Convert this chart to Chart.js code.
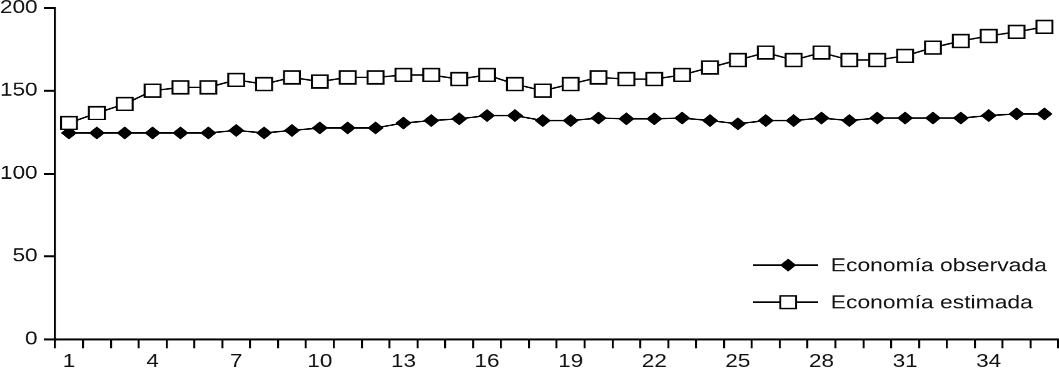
<!DOCTYPE html>
<html>
<head>
<meta charset="utf-8">
<script src="https://cdn.jsdelivr.net/npm/chart.js@4.4.1/dist/chart.umd.min.js"></script>
<style>
  html, body { margin: 0; padding: 0; background: #fff; overflow: hidden; }
  #wrap { position: absolute; left: 0; top: 0; width: 847px; height: 373px;
          transform: scale(1.2503, 1); transform-origin: 0 0; }
</style>
</head>
<body>
<div id="wrap"><canvas id="c"></canvas></div>
<script>
const categories = ['1','2','3','4','5','6','7','8','9','10','11','12','13','14','15','16','17','18',
                    '19','20','21','22','23','24','25','26','27','28','29','30','31','32','33','34','35','36'];
const observed = [124.5,124.5,124.5,124.5,124.5,124.5,126,124.5,126,127.5,127.5,127.5,130.5,132,133,135,135,132,
                  132,133.5,133,133,133.5,132,130,132,132,133.5,132,133.5,133.5,133.5,133.5,135,136,136];
const estimated = [130.5,136.5,142,150,152,152,156.5,154,158,155.5,158,158,159.5,159.5,157,159.5,154,150,
                   154,158,157,157,159.5,164,168.5,173,168.5,173,168.5,168.5,171,176,180,183,185.5,188.5];
const seriesNames = ['Economía observada', 'Economía estimada'];
const yTicks = [0, 50, 100, 150, 200];

const FONT = 'Liberation Sans, Arial, sans-serif';
// target plot area (unstretched canvas coordinates)
const TARGET = { top: 8, right: 846, bottom: 339 };

const legendPlugin = {
  id: 'insideLegend',
  afterDraw(chart) {
    const ctx = chart.ctx;
    const off = chart.chartArea.top - TARGET.top;
    const rows = [
      { y: 265 + off, style: 'diamond' },
      { y: 302 + off, style: 'square' }
    ];
    ctx.save();
    rows.forEach((r, i) => {
      ctx.strokeStyle = '#000';
      ctx.lineWidth = 1.5;
      ctx.beginPath();
      ctx.moveTo(602, r.y);
      ctx.lineTo(654, r.y);
      ctx.stroke();
      const cx = 630;
      if (r.style === 'diamond') {
        ctx.fillStyle = '#000';
        ctx.beginPath();
        ctx.moveTo(cx - 6.5, r.y);
        ctx.lineTo(cx, r.y - 6.5);
        ctx.lineTo(cx + 6.5, r.y);
        ctx.lineTo(cx, r.y + 6.5);
        ctx.closePath();
        ctx.fill();
      } else {
        ctx.fillStyle = '#fff';
        ctx.lineWidth = 1.5;
        ctx.fillRect(cx - 6.3, r.y - 6.3, 12.6, 12.6);
        ctx.strokeRect(cx - 6.3, r.y - 6.3, 12.6, 12.6);
      }
      ctx.fillStyle = '#111';
      ctx.font = '18.3px ' + FONT;
      ctx.textBaseline = 'middle';
      ctx.textAlign = 'left';
      ctx.fillText(seriesNames[i], 664, r.y + 1);
    });
    ctx.restore();
  }
};

const chart = new Chart(document.getElementById('c'), {
  type: 'line',
  data: {
    labels: categories,
    datasets: [
      {
        label: seriesNames[0],
        data: observed,
        borderColor: '#000',
        borderWidth: 1.5,
        backgroundColor: '#000',
        pointStyle: 'rectRot',
        pointRadius: 6.5,
        pointBorderWidth: 0,
        pointBackgroundColor: '#000',
        pointBorderColor: '#000',
        tension: 0,
        order: 1
      },
      {
        label: seriesNames[1],
        data: estimated,
        borderColor: '#000',
        borderWidth: 1.5,
        backgroundColor: '#fff',
        pointStyle: 'rect',
        pointRadius: 9,
        pointBorderWidth: 1.6,
        pointBackgroundColor: '#fff',
        pointBorderColor: '#000',
        tension: 0,
        order: 0
      }
    ]
  },
  options: {
    responsive: true,
    maintainAspectRatio: false,
    devicePixelRatio: 2,
    animation: false,
    layout: { padding: { top: 8, right: 1, left: 0, bottom: 0 } },
    plugins: {
      legend: { display: false },
      tooltip: { enabled: false }
    },
    scales: {
      x: {
        offset: true,
        grid: { offset: true, drawOnChartArea: false, drawTicks: true, tickLength: 9, color: '#000', lineWidth: 1.6 },
        border: { color: '#000', width: 2 },
        ticks: {
          autoSkip: false, maxRotation: 0, minRotation: 0,
          font: { family: FONT, size: 18 }, color: '#111', padding: 3,
          callback: (v, i) => (i % 3 === 0 ? categories[i] : '')
        },
        afterFit: s => { s.height = 34; }
      },
      y: {
        min: 0, max: 200,
        afterBuildTicks: s => { s.ticks = yTicks.map(v => ({ value: v })); },
        grid: { drawOnChartArea: false, drawTicks: true, tickLength: 9, color: '#000', lineWidth: 2 },
        border: { color: '#000', width: 1.6 },
        ticks: { font: { family: FONT, size: 18 }, color: '#111', padding: 5 },
        afterFit: s => { s.width = 44; }
      }
    }
  },
  plugins: [legendPlugin]
});

// Fit the wrapper so the plot area lands where the reference has it.
(function adjust() {
  const a = chart.chartArea;
  const wrap = document.getElementById('wrap');
  const topGap = a.top;
  const rightGap = chart.width - a.right;
  const h = TARGET.bottom + 34 - TARGET.top + topGap;
  wrap.style.top = (TARGET.top - topGap) + 'px';
  wrap.style.height = h + 'px';
  wrap.style.width = (TARGET.right + rightGap) + 'px';
  chart.resize();
})();
</script>
</body>
</html>
